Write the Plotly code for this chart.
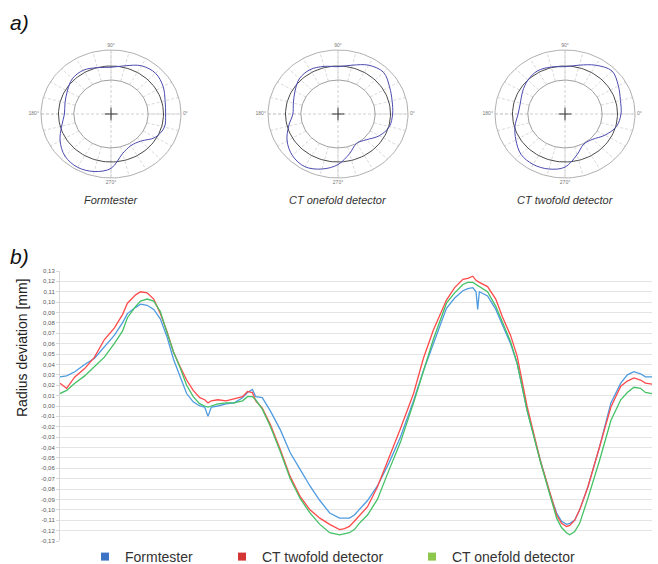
import numpy as np
import plotly.graph_objects as go

W, H = 658, 564

# ---------------- data: polar form profiles (radius normalised, outer grid ring = 1) -------------
profile_angles = list(range(0, 360, 15))
r_formtester = [0.78, 0.80, 0.86, 0.90, 0.87, 0.78, 0.73, 0.75, 0.79, 0.78, 0.72, 0.68,
                0.665, 0.73, 0.84, 0.93, 0.96, 0.93, 0.85, 0.64, 0.57, 0.60, 0.73, 0.79]
r_ct_onefold = [0.78, 0.80, 0.85, 0.92, 0.88, 0.79, 0.74, 0.77, 0.80, 0.78, 0.71, 0.66,
                0.645, 0.73, 0.84, 0.92, 0.95, 0.89, 0.79, 0.64, 0.53, 0.57, 0.68, 0.76]
r_ct_twofold = [0.80, 0.82, 0.88, 0.95, 0.88, 0.79, 0.74, 0.76, 0.78, 0.75, 0.70, 0.66,
                0.67, 0.74, 0.81, 0.89, 0.91, 0.89, 0.83, 0.66, 0.54, 0.56, 0.66, 0.76]
ring_inner, ring_reference, ring_outer = 0.53, 0.75, 1.0
spoke_step = 15
angle_label_values = [0, 90, 180, 270]
angle_label_text = ["0°", "90°", "180°", "270°"]
polar_captions = ["Formtester", "CT onefold detector", "CT twofold detector"]

# ---------------- data: radius deviation along the circumference -------------
angle_deg = [0, 4, 9, 15, 21, 27, 33, 38, 41, 46, 49, 53, 57, 61, 65, 69, 73, 77, 81, 85,
             88, 90, 92, 96, 101, 106, 111, 114, 117, 119, 123, 128, 134, 140, 146, 152, 158,
             164, 170, 173, 176, 179, 182, 187, 193, 200, 207, 215, 221, 227, 235, 240, 245,
             248, 251, 253, 254, 255, 260, 265, 269, 274, 278, 284, 292, 298, 302, 305, 308,
             310, 313, 316, 321, 328, 335, 341, 345, 349, 353, 356, 360]
dev_formtester = [0.028, 0.029, 0.033, 0.040, 0.046, 0.057, 0.068, 0.080, 0.089, 0.095, 0.098,
                  0.097, 0.093, 0.084, 0.067, 0.045, 0.028, 0.012, 0.004, 0.000, -0.001, -0.010,
                  -0.001, 0.000, 0.002, 0.003, 0.008, 0.013, 0.016, 0.009, 0.008, -0.005, -0.023,
                  -0.045, -0.061, -0.077, -0.091, -0.103, -0.108, -0.108, -0.108, -0.105, -0.100,
                  -0.091, -0.077, -0.055, -0.030, 0.005, 0.034, 0.059, 0.094, 0.104, 0.111, 0.113,
                  0.114, 0.110, 0.093, 0.110, 0.106, 0.093, 0.078, 0.060, 0.041, -0.004, -0.052,
                  -0.085, -0.103, -0.111, -0.114, -0.113, -0.110, -0.100, -0.078, -0.040, 0.003,
                  0.022, 0.030, 0.033, 0.031, 0.028, 0.028]
dev_ct_twofold = [0.022, 0.017, 0.028, 0.036, 0.047, 0.064, 0.075, 0.088, 0.099, 0.107, 0.110,
                  0.109, 0.103, 0.089, 0.072, 0.052, 0.038, 0.025, 0.015, 0.008, 0.006, 0.003,
                  0.005, 0.006, 0.005, 0.007, 0.009, 0.014, 0.013, 0.005, -0.002, -0.018, -0.042,
                  -0.068, -0.087, -0.100, -0.108, -0.114, -0.119, -0.118, -0.116, -0.111, -0.106,
                  -0.097, -0.078, -0.050, -0.022, 0.012, 0.046, 0.073, 0.102, 0.114, 0.122, 0.123,
                  0.125, 0.121, 0.120, 0.119, 0.115, 0.103, 0.086, 0.068, 0.048, 0.000, -0.052,
                  -0.085, -0.105, -0.113, -0.116, -0.115, -0.110, -0.100, -0.078, -0.040, -0.001,
                  0.019, 0.024, 0.027, 0.025, 0.022, 0.021]
dev_ct_onefold = [0.012, 0.015, 0.022, 0.029, 0.038, 0.047, 0.060, 0.072, 0.085, 0.096, 0.101,
                  0.103, 0.101, 0.091, 0.071, 0.052, 0.037, 0.020, 0.009, 0.002, 0.000, -0.001,
                  0.000, 0.002, 0.003, 0.003, 0.005, 0.009, 0.009, 0.006, -0.003, -0.020, -0.044,
                  -0.070, -0.089, -0.103, -0.114, -0.122, -0.124, -0.123, -0.122, -0.119, -0.113,
                  -0.105, -0.090, -0.062, -0.035, 0.003, 0.034, 0.064, 0.099, 0.109, 0.117, 0.119,
                  0.119, 0.117, 0.116, 0.115, 0.110, 0.096, 0.081, 0.062, 0.041, -0.004, -0.053,
                  -0.087, -0.108, -0.117, -0.122, -0.124, -0.121, -0.113, -0.089, -0.053, -0.014,
                  0.006, 0.013, 0.018, 0.017, 0.013, 0.012]
series_names = ["Formtester", "CT twofold detector", "CT onefold detector"]
y_ticks = [round(-0.13 + 0.01 * i, 2) for i in range(27)]
y_ticklabels = [("%.2f" % v).replace(".", ",") for v in y_ticks]
y_ticklabels = ["0,00" if t == "-0,00" else t for t in y_ticklabels]

# ---------------- styles -------------
FONT = "Liberation Sans, Arial, sans-serif"
line_colors = ["#4f9be0", "#ff4a4a", "#45c165"]
legend_colors = ["#3d73c5", "#d43535", "#8cc84b"]
legend_widths = [92, 145, 130]

fig = go.Figure()

# ---------------- bottom chart -------------
for name, vals, col in zip(series_names, [dev_formtester, dev_ct_twofold, dev_ct_onefold], line_colors):
    fig.add_trace(go.Scatter(x=angle_deg, y=vals, mode="lines", name=name,
                             line=dict(color=col, width=1.3), showlegend=False,
                             xaxis="x", yaxis="y"))
for name, col, lw in zip(series_names, legend_colors, legend_widths):
    fig.add_trace(go.Scatter(x=[None], y=[None], mode="markers", name=name,
                             marker=dict(symbol="square", size=8, color=col),
                             legendwidth=lw, xaxis="x", yaxis="y"))

# ---------------- polar (elliptical) plots -------------
centers = [(111, 114), (338, 114), (565, 114)]
ax_px, ay_px, R = 70.0, 64.0, 1.2
ring_t = np.deg2rad(np.arange(0, 361, 3))
profiles = [r_formtester, r_ct_onefold, r_ct_twofold]

layout_axes = {}
annotations = []
for i, ((cx, cy), prof, cap) in enumerate(zip(centers, profiles, polar_captions)):
    xa, ya = "x%d" % (i + 2), "y%d" % (i + 2)
    layout_axes["xaxis%d" % (i + 2)] = dict(domain=[(cx - ax_px * R) / W, (cx + ax_px * R) / W],
                                            range=[-R, R], visible=False, fixedrange=True)
    layout_axes["yaxis%d" % (i + 2)] = dict(domain=[1 - (cy + ay_px * R) / H, 1 - (cy - ay_px * R) / H],
                                            range=[-R, R], visible=False, fixedrange=True)
    # spokes in the annulus
    sx, sy = [], []
    for a in range(0, 360, spoke_step):
        t = np.deg2rad(a)
        sx += [ring_inner * np.cos(t), ring_outer * np.cos(t), None]
        sy += [ring_inner * np.sin(t), ring_outer * np.sin(t), None]
    fig.add_trace(go.Scatter(x=sx, y=sy, mode="lines", line=dict(color="#cfcfcf", width=0.8, dash="3px,2px"),
                             hoverinfo="skip", showlegend=False, xaxis=xa, yaxis=ya))
    # axis cross-lines
    cxl, cyl = [], []
    for a in angle_label_values[:2]:
        t = np.deg2rad(a)
        cxl += [-ring_outer * np.cos(t), ring_outer * np.cos(t), None]
        cyl += [-ring_outer * np.sin(t), ring_outer * np.sin(t), None]
    fig.add_trace(go.Scatter(x=cxl, y=cyl, mode="lines", line=dict(color="#c4c4c4", width=0.8, dash="3px,2px"),
                             hoverinfo="skip", showlegend=False, xaxis=xa, yaxis=ya))
    # rings
    for rr, col, wdt in [(ring_outer, "#b0b0b0", 1.0), (ring_inner, "#a0a0a0", 1.0),
                         (ring_reference, "#4a4a4a", 1.0)]:
        fig.add_trace(go.Scatter(x=rr * np.cos(ring_t), y=rr * np.sin(ring_t), mode="lines",
                                 line=dict(color=col, width=wdt), hoverinfo="skip",
                                 showlegend=False, xaxis=xa, yaxis=ya))
    # measured profile
    th = np.deg2rad(profile_angles + [profile_angles[0] + 360])
    rp = np.array(prof + [prof[0]])
    fig.add_trace(go.Scatter(x=rp * np.cos(th), y=rp * np.sin(th), mode="lines",
                             line=dict(color="#4b4bb0", width=1.0, shape="spline", smoothing=1.0),
                             showlegend=False, xaxis=xa, yaxis=ya))
    # centre cross
    fig.add_trace(go.Scatter(x=[0], y=[0], mode="markers",
                             marker=dict(symbol="cross-thin", size=9, line=dict(color="#333333", width=1)),
                             showlegend=False, xaxis=xa, yaxis=ya))
    # angle labels
    lt = np.deg2rad(angle_label_values)
    fig.add_trace(go.Scatter(x=1.03 * np.cos(lt), y=1.03 * np.sin(lt), mode="text",
                             text=angle_label_text,
                             textposition=["middle right", "top center", "middle left", "bottom center"],
                             textfont=dict(size=5, color="#777777", family=FONT), cliponaxis=False,
                             hoverinfo="skip", showlegend=False, xaxis=xa, yaxis=ya))
    annotations.append(dict(text="<i>%s</i>" % cap, x=cx / W, y=1 - 200 / H, xref="paper", yref="paper",
                            xanchor="center", yanchor="middle",
                            showarrow=False, font=dict(size=11, color="#333333", family=FONT)))

annotations += [
    dict(text="<i>a)</i>", x=8 / W, y=1 - 23 / H, xref="paper", yref="paper", xanchor="left",
         yanchor="middle", showarrow=False, font=dict(size=21, color="#111111", family=FONT)),
    dict(text="<i>b)</i>", x=8 / W, y=1 - 256 / H, xref="paper", yref="paper", xanchor="left",
         yanchor="middle", showarrow=False, font=dict(size=21, color="#111111", family=FONT)),
    dict(text="Radius deviation [mm]", x=22 / W, y=1 - 348 / H, xref="paper", yref="paper",
         xanchor="center", yanchor="middle",
         textangle=-90, showarrow=False, font=dict(size=14, color="#222222", family=FONT)),
]

fig.update_layout(
    width=W, height=H, margin=dict(l=0, r=0, t=0, b=0, autoexpand=False),
    paper_bgcolor="white", plot_bgcolor="white",
    font=dict(family=FONT),
    xaxis=dict(domain=[60 / W, 652 / W], range=[0, 360], showgrid=False, showticklabels=False,
               zeroline=False, showline=False, ticks="", fixedrange=True),
    yaxis=dict(domain=[1 - 541 / H, 1 - 271 / H], range=[-0.13, 0.13], tickvals=y_ticks,
               ticktext=y_ticklabels, tickfont=dict(size=6, color="#595959", family=FONT),
               gridcolor="#e4e4e4", gridwidth=1, zeroline=False, showline=True, linecolor="#d9d9d9",
               ticks="outside", ticklen=3, tickcolor="#d9d9d9", fixedrange=True),
    legend=dict(orientation="h", x=85 / W, xanchor="left", y=1 - 557 / H, yanchor="middle",
                font=dict(size=14, color="#333333", family=FONT), bgcolor="rgba(0,0,0,0)",
                itemwidth=30),
    annotations=annotations,
    showlegend=True,
    **layout_axes,
)

fig.write_html("out.html", config={"displayModeBar": False},
               post_script="document.body.style.margin='0px';")
